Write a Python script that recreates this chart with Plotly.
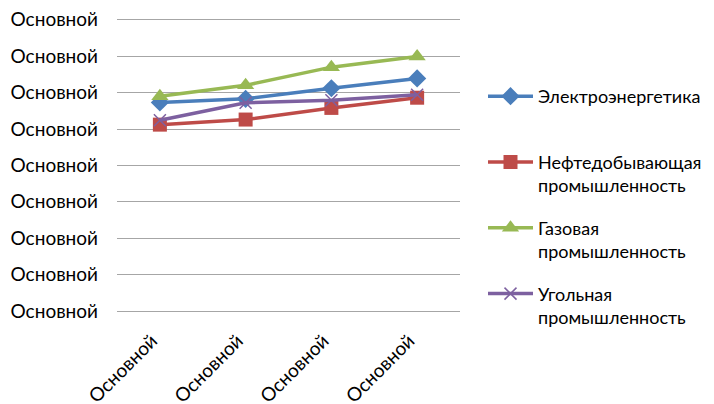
import plotly.graph_objects as go

categories = ["Основной", "Основной", "Основной", "Основной"]
y_tick_vals = [0, 1, 2, 3, 4, 5, 6, 7, 8]
y_tick_text = ["Основной"] * 9

series_names = [
    "Электроэнергетика<br> ",
    "Нефтедобывающая<br>промышленность",
    "Газовая<br>промышленность",
    "Угольная<br>промышленность",
]
elec = [5.73, 5.83, 6.12, 6.39]
oil = [5.12, 5.26, 5.58, 5.86]
gas = [5.90, 6.20, 6.70, 6.99]
coal = [5.24, 5.72, 5.79, 5.94]

colors = ["#4A7EBB", "#BE4B48", "#98B954", "#7D60A0"]
symbols = ["diamond", "square", "triangle-up", "x-thin"]
sizes = [14, 14, 15, 12]
values = [elec, oil, gas, coal]

x_idx = list(range(len(categories)))

fig = go.Figure()
for i, (name, vals) in enumerate(zip(series_names, values)):
    fig.add_trace(go.Scatter(
        x=x_idx, y=vals, name=name, mode="lines+markers",
        legendgroup=f"g{i}",
        line=dict(color=colors[i], width=3.5),
        marker=dict(symbol=symbols[i], size=sizes[i], color=colors[i],
                    line=dict(color=colors[i], width=1.5 if symbols[i] == "x-thin" else 0)),
    ))

font = "Lato, Open Sans"
fs_axis = 19
fs_leg = 18
W, H = 706, 396
fig.update_layout(
    width=W, height=H,
    margin=dict(l=109, r=254, t=10, b=93, autoexpand=False),
    paper_bgcolor="white", plot_bgcolor="white",
    font=dict(family=font, size=fs_axis, color="#000000"),
    showlegend=True,
    legend=dict(
        xref="container", yref="container",
        x=475 / W, y=1 - 70 / H, xanchor="left", yanchor="top",
        font=dict(family=font, size=fs_leg, color="#000000"),
        valign="top", itemwidth=45, tracegroupgap=16,
        traceorder="grouped", maxheight=380,
    ),
    xaxis=dict(
        range=[-0.5, 3.5], tickvals=x_idx, ticktext=categories,
        tickangle=-45, showgrid=False, zeroline=False, showline=False,
        ticks="", tickfont=dict(family=font, size=fs_axis), automargin=False,
        ticklabelstandoff=14, ticklabelshift=-8,
    ),
    yaxis=dict(
        range=[0, 8.05], tickvals=y_tick_vals, ticktext=y_tick_text,
        showgrid=True, gridcolor="#A6A6A6", gridwidth=1,
        zeroline=True, zerolinecolor="#A6A6A6", zerolinewidth=1,
        showline=False, ticks="", ticklabelstandoff=18, automargin=False,
        ticklabeloverflow="allow",
        tickfont=dict(family=font, size=fs_axis),
    ),
)

fig.write_html("out.html")
